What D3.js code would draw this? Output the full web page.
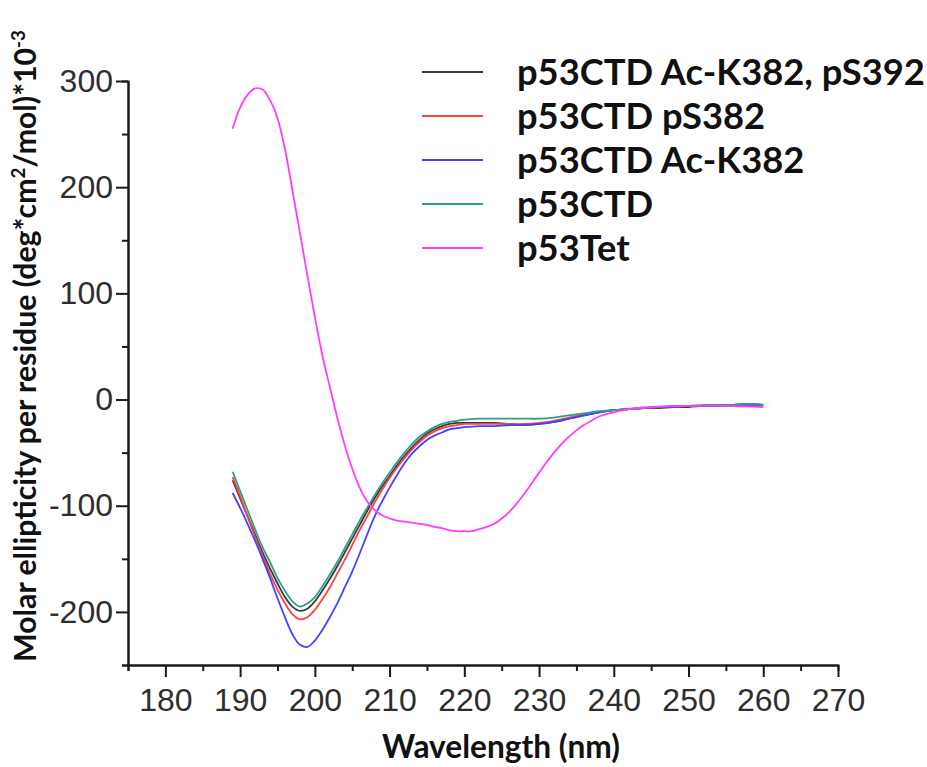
<!DOCTYPE html>
<html>
<head>
<meta charset="utf-8">
<script src="https://cdn.jsdelivr.net/npm/d3@7"></script>
<style>
body { margin: 0; background: #fff; }
</style>
</head>
<body>
<div id="chart"></div>
<script>
// wavelengths (nm) for the four CTD peptides
var wlCtd = [189,190,191,192,193,194,195,196,197,198,
             199,200,201,202,203,204,205,206,207,208,
             209,210,211,212,213,214,215,216,217,218,
             219,220,222,224,226,228,230,232,234,236,
             238,240,242,244,246,248,250,252,254,256,258,260];

// molar ellipticity per residue, *10^-3
var ctdAcPs = [-76,-93,-110,-127,-144,-159,-173,-186,-195,-199,
               -197,-190,-180,-169,-157,-144,-131,-118,-105,-93,
               -82,-72,-62,-53,-45,-38,-32,-28,-25,-23,
               -22,-22,-22,-22,-23,-24,-23,-21,-18,-15,
               -12,-10,-9,-8,-8,-7,-7,-6,-6,-5,-4,-5];
var ctdPs = [-73,-91,-110,-129,-147,-164,-179,-192,-202,-207,
             -205,-198,-188,-177,-164,-151,-137,-123,-110,-97,
             -85,-74,-64,-55,-47,-40,-34,-30,-27,-25,
             -24,-23,-23,-23,-23,-23,-22,-20,-17,-14,
             -12,-10,-9,-8,-7,-7,-6,-6,-6,-6,-6,-6];
var ctdAc = [-88,-102,-117,-133,-150,-168,-187,-205,-221,-231,
             -233,-227,-217,-205,-192,-177,-162,-145,-127,-110,
             -96,-83,-71,-60,-51,-44,-38,-34,-31,-28,
             -27,-26,-25,-25,-24,-24,-23,-21,-18,-15,
             -12,-10,-9,-8,-7,-7,-6,-6,-6,-5,-5,-5];
var ctd = [-68,-86,-104,-122,-139,-153,-168,-180,-190,-195,
           -192,-186,-176,-165,-153,-140,-127,-114,-102,-90,
           -79,-69,-59,-50,-42,-35,-30,-26,-23,-21,
           -20,-19,-18,-18,-18,-18,-18,-17,-15,-13,
           -11,-10,-9,-8,-7,-6,-6,-5,-5,-5,-4,-5];

// p53Tet has its own wavelength grid
var wlTet = [189,190,191,192,193,194,195,196,197,198,
             199,200,201,202,203,204,205,206,207,208,
             209,210,211,212,213,214,215,216,217,218,
             219,220,221,222,223,224,225,226,227,228,
             229,230,231,232,233,234,235,236,237,238,
             240,242,245,250,255,260];
var tet = [255,275,287,293,292,282,265,236,197,157,
           117,78,42,12,-17,-43,-65,-83,-96,-104,
           -109,-112,-114,-115,-116,-117,-118,-120,-121,-123,
           -124,-124,-124,-122,-120,-117,-112,-106,-98,-89,
           -79,-69,-59,-50,-42,-35,-29,-24,-20,-16,
           -12,-9,-7,-6,-6,-7];

var seriesNames = ["p53CTD Ac-K382, pS392", "p53CTD pS382", "p53CTD Ac-K382", "p53CTD", "p53Tet"];
var seriesColors = ["#3a3a3a", "#ff4040", "#4343ff", "#2f9e8c", "#ff3cff"];

var xMajor = [180,190,200,210,220,230,240,250,260,270];
var xMinor = [175,185,195,205,215,225,235,245,255,265];
var yMajor = [-200,-100,0,100,200,300];
var yMinor = [-250,-150,-50,50,150,250];

var widthsvg = 927;
var heightsvg = 767;

var svg = d3.select("#chart")
    .append("svg")
    .attr("width", widthsvg)
    .attr("height", heightsvg);

var x = d3.scaleLinear().domain([175, 270]).range([128, 838]);
var y = d3.scaleLinear().domain([-250, 300]).range([665, 81]);

var tickFont = "'Liberation Sans', Arial, sans-serif";
var labelFont = "Lato, 'Open Sans', sans-serif";

// plain hyphen for negatives, like the original
var plain = d => String(d);

// axes: minor ticks first, then major ticks with labels
svg.append("g")
    .attr("class", "axis")
    .attr("transform", "translate(0,665)")
    .call(d3.axisBottom(x).tickValues(xMinor).tickSize(6).tickFormat(""));
svg.append("g")
    .attr("class", "axis")
    .attr("transform", "translate(0,665)")
    .call(d3.axisBottom(x).tickValues(xMajor).tickSize(12).tickSizeOuter(0).tickPadding(11).tickFormat(plain));

svg.append("g")
    .attr("class", "axis")
    .attr("transform", "translate(128,0)")
    .call(d3.axisLeft(y).tickValues(yMinor).tickSize(6).tickFormat(""));
svg.append("g")
    .attr("class", "axis")
    .attr("transform", "translate(128,0)")
    .call(d3.axisLeft(y).tickValues(yMajor).tickSize(12).tickSizeOuter(0).tickPadding(3).tickFormat(plain));

svg.selectAll(".axis path, .axis line")
    .attr("stroke", "#1a1a1a")
    .attr("stroke-width", 2);
svg.selectAll(".axis text")
    .attr("fill", "#2e2e2e")
    .attr("font-family", tickFont)
    .attr("font-size", 32);

// curves
var lineData = [
    wlCtd.map((w, i) => [w, ctdAcPs[i]]),
    wlCtd.map((w, i) => [w, ctdPs[i]]),
    wlCtd.map((w, i) => [w, ctdAc[i]]),
    wlCtd.map((w, i) => [w, ctd[i]]),
    wlTet.map((w, i) => [w, tet[i]])
];

var line = d3.line()
    .x(d => x(d[0]))
    .y(d => y(d[1]))
    .curve(d3.curveCatmullRom);

svg.append("g")
    .selectAll("path")
    .data(lineData)
    .enter()
    .append("path")
    .attr("d", line)
    .attr("fill", "none")
    .attr("stroke", (d, i) => seriesColors[i])
    .attr("stroke-width", 1.8);

// shrink/grow a bold label so it spans a given width
function fitSize(txt, target) {
    var probe = svg.append("text")
        .attr("font-family", labelFont)
        .attr("font-weight", 700)
        .attr("font-size", 40)
        .text(txt);
    var w = probe.node().getComputedTextLength();
    probe.remove();
    return 40 * target / w;
}

// legend
var legSize = fitSize(seriesNames[0], 408);
var legend = svg.append("g")
    .selectAll("g")
    .data(seriesNames)
    .enter()
    .append("g")
    .attr("transform", (d, i) => `translate(0, ${72 + i * 44})`);

legend.append("line")
    .attr("x1", 422)
    .attr("x2", 483)
    .attr("stroke", (d, i) => seriesColors[i])
    .attr("stroke-width", 2.2);

legend.append("text")
    .attr("x", 517)
    .attr("y", legSize * 0.36)
    .attr("font-family", labelFont)
    .attr("font-weight", 700)
    .attr("font-size", legSize)
    .attr("fill", "#111")
    .text(d => d);

// x title
var xSize = fitSize("Wavelength (nm)", 238);
svg.append("text")
    .attr("x", 501)
    .attr("y", 758)
    .attr("text-anchor", "middle")
    .attr("font-family", labelFont)
    .attr("font-weight", 700)
    .attr("font-size", xSize)
    .attr("fill", "#111")
    .text("Wavelength (nm)");

// y title, with superscripts
var ySize = fitSize("Molar ellipticity per residue (deg*cm2/mol)*10-3", 650);
var yTitle = svg.append("text")
    .attr("transform", "translate(36,346) rotate(-90)")
    .attr("text-anchor", "middle")
    .attr("font-family", labelFont)
    .attr("font-weight", 700)
    .attr("font-size", ySize)
    .attr("fill", "#111");
var sup = ySize * 0.62;
var lift = ySize * 0.38;
yTitle.append("tspan").text("Molar ellipticity per residue (deg*cm");
yTitle.append("tspan").attr("font-size", sup).attr("dy", -lift).text("2");
yTitle.append("tspan").attr("dy", lift).text("/mol)*10");
yTitle.append("tspan").attr("font-size", sup).attr("dy", -lift).text("-3");
</script>
</body>
</html>
